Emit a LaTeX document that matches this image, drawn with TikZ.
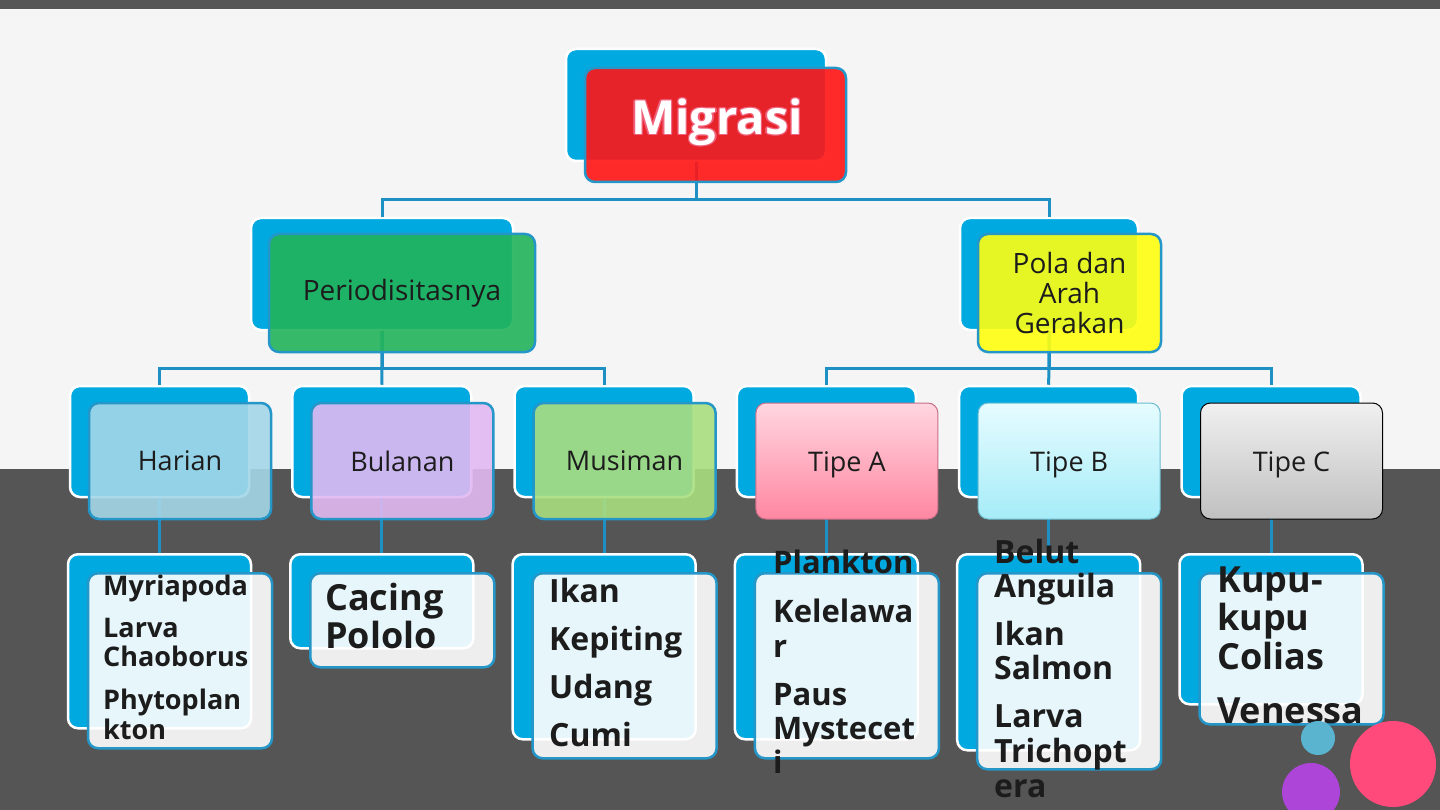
\documentclass[tikz,border=0pt]{standalone}
\usepackage{fontspec}
\usetikzlibrary{calc}
\setmainfont{Open Sans}
\definecolor{darkbg}{HTML}{555555}
\definecolor{lightbg}{HTML}{F5F5F5}
\definecolor{backblue}{HTML}{00A9E0}
\definecolor{edgeblue}{HTML}{2596C8}
\definecolor{lineblue}{HTML}{1E90C4}
\definecolor{txt}{HTML}{1C1C1C}
\definecolor{migred}{HTML}{FF1515}
\definecolor{migglow}{HTML}{F0607A}
\definecolor{pergreen}{HTML}{22B45A}
\definecolor{polyellow}{HTML}{FFFF10}
\definecolor{harfill}{HTML}{A5D7E8}
\definecolor{bulfill}{HTML}{E1B9F2}
\definecolor{musfill}{HTML}{AADE80}
\definecolor{circblue}{HTML}{5AB4D0}
\definecolor{circpink}{HTML}{FF4A7B}
\definecolor{circpurple}{HTML}{AD45D9}
\definecolor{tpaedge}{RGB}{200,110,135}
\definecolor{tpatop}{RGB}{255,214,224}
\definecolor{tpabot}{RGB}{255,135,162}
\definecolor{tpbedge}{RGB}{110,190,210}
\definecolor{tpbtop}{RGB}{230,252,255}
\definecolor{tpbbot}{RGB}{166,236,248}
\definecolor{tpctop}{RGB}{240,240,240}
\definecolor{tpcbot}{RGB}{192,192,192}
\begin{document}
\begin{tikzpicture}[x=1pt,y=-1pt,
  backbox/.style={draw=white, line width=2.5pt, fill=backblue, rounded corners=10pt, inner sep=0pt},
  frontbox/.style={draw=edgeblue, line width=2.5pt, rounded corners=10pt, fill opacity=0.9, text opacity=1, inner sep=0pt, align=center, text=txt},
  tipebox/.style={line width=1pt, rounded corners=10pt, inner sep=0pt, text height=20pt, text depth=0pt, text=txt, font=\fontsize{27}{30}\selectfont},
  leafbox/.style={frontbox, fill=white},
  conn/.style={draw=lineblue, line width=3pt},
  lvl/.style={font=\fontsize{27}{30}\selectfont},
  leaftxt/.style={anchor=base west, inner sep=0pt, text=txt},
  migtxt/.style={font=\fontsize{47}{52}\bfseries, inner sep=0pt}
]
\useasboundingbox (0,0) rectangle (1440,810);
\fill[darkbg] (0,0) rectangle (1440,810);
\fill[lightbg] (0,9) rectangle (1440,469);

% ---------- back boxes (nodes) ----------
\node[backbox, minimum width=260pt, minimum height=112pt] (migB) at (696,105) {};
\node[backbox, minimum width=262pt, minimum height=112pt] (perB) at (382,274) {};
\node[backbox, minimum width=178pt, minimum height=112pt] (polB) at (1049,274) {};
\foreach \n/\cx in {har/159.5, bul/381.8, mus/604.1, tpa/826.4, tpb/1048.7, tpc/1271}
  \node[backbox, minimum width=179pt, minimum height=111pt] (\n B) at (\cx,441.5) {};
\foreach \n/\cx/\h in {har/159.5/174, bul/381.8/94, mus/604.1/185, tpa/826.4/185, tpb/1048.7/196, tpc/1271/150}
  \node[backbox, minimum width=183pt, minimum height=\h pt, anchor=north] (\n LB) at (\cx,553) {};

% ---------- connectors ----------
\draw[conn] (migB.south) -- ++(0,37) -| (perB.north);
\draw[conn] (migB.south) -- ++(0,37) -| (polB.north);
\draw[conn] (perB.south) -- ++(0,37) -| (harB.north);
\draw[conn] (perB.south) -- ++(0,37) -| (musB.north);
\draw[conn] (perB.south) -- (bulB.north);
\draw[conn] (polB.south) -- ++(0,37) -| (tpaB.north);
\draw[conn] (polB.south) -- ++(0,37) -| (tpcB.north);
\draw[conn] (polB.south) -- (tpbB.north);
\foreach \n in {har,bul,mus,tpa,tpb,tpc}
  \draw[conn] (\n B.south) -- (\n LB.north);

% ---------- front boxes ----------
\node[frontbox, fill=migred, minimum width=261pt, minimum height=114pt] (migF) at (715.5,125) {};
\foreach \dx/\dy [count=\k] in {-1.2/0, 1.2/0, 0/-1.2, 0/1.2, 0.9/0.9, -0.9/0.9, 0.9/-0.9, -0.9/-0.9}
  \node[migtxt, text=migglow] (migG\k) at ($(migF.center)+(\dx+1.5,\dy-3)$) {Migrasi};
\node[migtxt, text=white] (migT) at ($(migF.center)+(1.5,-3)$) {Migrasi};
\node[frontbox, fill=pergreen, minimum width=266pt, minimum height=118pt,
  font=\fontsize{28}{30}\selectfont] (perF) at (402,293) {Periodisitasnya};
\node[frontbox, fill=polyellow, minimum width=183pt, minimum height=118pt,
  font=\fontsize{28}{30}\selectfont] (polF) at (1069.5,293) {Pola dan\\Arah\\Gerakan};

\node[frontbox, lvl, fill=harfill, minimum width=182pt, minimum height=116pt] (harF) at (180,461) {Harian};
\node[frontbox, lvl, fill=bulfill, minimum width=182pt, minimum height=116pt] (bulF) at (402.3,461) {Bulanan};
\node[frontbox, lvl, fill=musfill, minimum width=182pt, minimum height=116pt] (musF) at (624.6,461) {Musiman};
\node[tipebox, draw=tpaedge, top color=tpatop, bottom color=tpabot, minimum width=182pt, minimum height=116pt] (tpaF) at (846.9,461) {Tipe A};
\node[tipebox, draw=tpbedge, top color=tpbtop, bottom color=tpbbot, minimum width=182pt, minimum height=116pt] (tpbF) at (1069.2,461) {Tipe B};
\node[tipebox, draw=black, top color=tpctop, bottom color=tpcbot, minimum width=182pt, minimum height=116pt] (tpcF) at (1291.5,461) {Tipe C};

\foreach \n/\cx/\h in {har/180/175, bul/402.3/94, mus/624.6/185, tpa/846.9/185, tpb/1069.2/196, tpc/1291.5/151}
  \node[leafbox, minimum width=184pt, minimum height=\h pt, anchor=north] (\n LF) at (\cx,572) {};

% ---------- leaf texts ----------
\foreach \t/\yy [count=\k] in {Myriapoda/595, Larva/637, Chaoborus/666, Phytoplan/709, kton/739}
  \node[leaftxt, font=\fontsize{27}{30}\bfseries] (harT\k) at (103,\yy) {\t};
\foreach \t/\yy [count=\k] in {Cacing/610, Pololo/648}
  \node[leaftxt, font=\fontsize{36}{40}\bfseries] (bulT\k) at (325,\yy) {\t};
\foreach \t/\yy [count=\k] in {Ikan/602, Kepiting/650, Udang/698, Cumi/746}
  \node[leaftxt, font=\fontsize{32}{36}\bfseries] (musT\k) at (549,\yy) {\t};
\foreach \t/\yy [count=\k] in {Plankton/573, Kelelawa/622, r/657, Paus/705, Mystecet/739, i/773}
  \node[leaftxt, font=\fontsize{31}{35}\bfseries] (tpaT\k) at (773,\yy) {\t};
\foreach \t/\yy [count=\k] in {Belut/563, Anguila/597, Ikan/645, Salmon/679, Larva/727, Trichopt/762, era/797}
  \node[leaftxt, font=\fontsize{32}{36}\bfseries] (tpbT\k) at (994,\yy) {\t};
\foreach \t/\yy [count=\k] in {Kupu-/592, kupu/630, Colias/669, Venessa/723}
  \node[leaftxt, font=\fontsize{36}{40}\bfseries] (tpcT\k) at (1217,\yy) {\t};

% ---------- circles ----------
\node[circle, fill=circblue, inner sep=0pt, minimum size=34pt] (c1) at (1318,738) {};
\node[circle, fill=circpink, inner sep=0pt, minimum size=86pt] (c2) at (1393,764) {};
\node[circle, fill=circpurple, inner sep=0pt, minimum size=58pt] (c3) at (1311,792) {};
\end{tikzpicture}
\end{document}
